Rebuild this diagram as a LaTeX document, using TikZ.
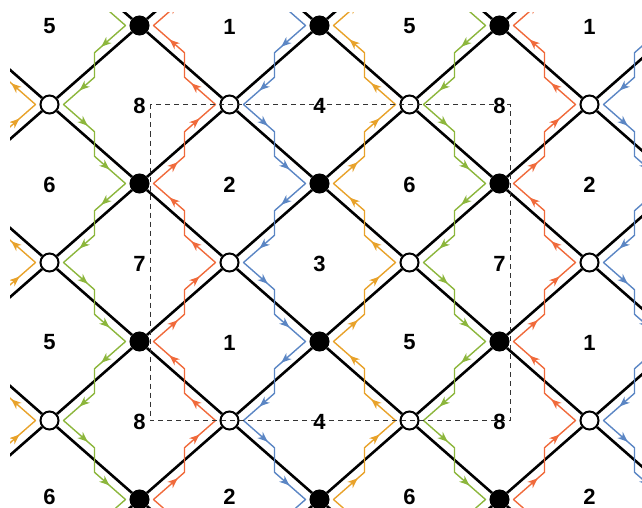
\documentclass[tikz,border=0pt]{standalone}
\usepackage{fontspec}
\setmainfont{Liberation Sans}
\usetikzlibrary{calc, arrows.meta, decorations.markings}

\definecolor{zgreen}{HTML}{8CB63C}
\definecolor{zred}{HTML}{F06A3B}
\definecolor{zblue}{HTML}{5B86C4}
\definecolor{zorange}{HTML}{E8A22A}

% one leg of a zig-zag path along the bond #2 -> #3, pushed #4 sideways
\newcommand{\zigleg}[4]{%
  \draw[zz, #1]
    ($(#2.center)+(#4,0)$) -- ($(#2.center)!31/90!(#3.center)+(#4,0)$)
    -- ($(#2.center)!59/90!(#3.center)-(#4,0)$) -- ($(#3.center)-(#4,0)$);}

\begin{document}
\begin{tikzpicture}[
  x=1pt, y=-1pt,
  bond/.style    = {line width=2.6pt},
  bnode/.style   = {circle, draw, fill=black, line width=2pt,
                    minimum size=18pt, inner sep=0pt},
  wnode/.style   = {bnode, fill=white},
  facelbl/.style = {font=\fontsize{22}{23}\selectfont\bfseries, yshift=-1pt},
  cell/.style    = {draw=black!80, line width=1pt, dash pattern=on 5pt off 4pt},
  zz/.style      = {line width=1.4pt, line join=round, line cap=round,
                    postaction=decorate, decoration={markings,
                    mark=at position 0.30 with {\arrow{Stealth[length=10pt,width=8pt,inset=3pt]}},
                    mark=at position 0.80 with {\arrow{Stealth[length=10pt,width=8pt,inset=3pt]}}}},
]
\useasboundingbox (0,0) rectangle (642,508);

\begin{scope}
\clip (10,13) rectangle (642,508);

% ---- vertices ---------------------------------------------------------------
\foreach \K in {0,2,...,8}
  \foreach \M in {0,2,...,10}
    \node[bnode] (v-\K-\M) at (-40.5+90*\K, -132.5+79*\M) {};
\foreach \K in {1,3,...,7}
  \foreach \M in {1,3,...,9}
    \node[wnode] (v-\K-\M) at (-40.5+90*\K, -132.5+79*\M) {};

% ---- bonds: every white vertex to its four black neighbours -------------------
\foreach \K in {1,3,...,7}
  \foreach \M in {1,3,...,9} {
    \pgfmathtruncatemacro{\Kl}{\K-1}
    \pgfmathtruncatemacro{\Kr}{\K+1}
    \pgfmathtruncatemacro{\Mu}{\M-1}
    \pgfmathtruncatemacro{\Md}{\M+1}
    \draw[bond] (v-\K-\M) -- (v-\Kl-\Mu)  (v-\K-\M) -- (v-\Kr-\Mu)
                (v-\K-\M) -- (v-\Kl-\Md)  (v-\K-\M) -- (v-\Kr-\Md);
  }

% ---- zig-zag paths, one per strip between vertex columns \c and \c+1 ----------
% odd strips run downwards, even strips upwards
\foreach \c/\col in {0/zorange, 1/zgreen, 2/zred, 3/zblue,
                     4/zorange, 5/zgreen, 6/zred, 7/zblue}
  \foreach \M in {1,...,8} {
    \pgfmathtruncatemacro{\ka}{\c+mod(\c+\M,2)}
    \pgfmathtruncatemacro{\kb}{2*\c+1-\ka}
    \pgfmathtruncatemacro{\Mn}{\M+1}
    \ifodd\c\relax
      \pgfmathsetmacro{\h}{14*(1-2*(\ka-\c))}
      \zigleg{\col}{v-\ka-\M}{v-\kb-\Mn}{\h}
    \else
      \pgfmathsetmacro{\h}{14*(1-2*(\kb-\c))}
      \zigleg{\col}{v-\kb-\Mn}{v-\ka-\M}{\h}
    \fi
  }
\end{scope}

% ---- fundamental cell ---------------------------------------------------------
\draw[cell] ($(v-3-3)+(-79.5,0)$) rectangle ($(v-7-7)+(-79.5,0)$);

% ---- face labels --------------------------------------------------------------
\foreach \K/\M/\t in {1/2/5, 3/2/1, 5/2/5, 7/2/1,
                      2/3/8, 4/3/4, 6/3/8,
                      1/4/6, 3/4/2, 5/4/6, 7/4/2,
                      2/5/7, 4/5/3, 6/5/7,
                      1/6/5, 3/6/1, 5/6/5, 7/6/1,
                      2/7/8, 4/7/4, 6/7/8}
  \node[facelbl] (f-\K-\M) at (-40.5+90*\K, -132.5+79*\M) {\t};
% bottom row sits a little higher, clear of the edge
\foreach \K/\t in {1/6, 3/2, 5/6, 7/2}
  \node[facelbl, yshift=3.5pt] (f-\K-8) at (-40.5+90*\K, -132.5+79*8) {\t};

\end{tikzpicture}
\end{document}
